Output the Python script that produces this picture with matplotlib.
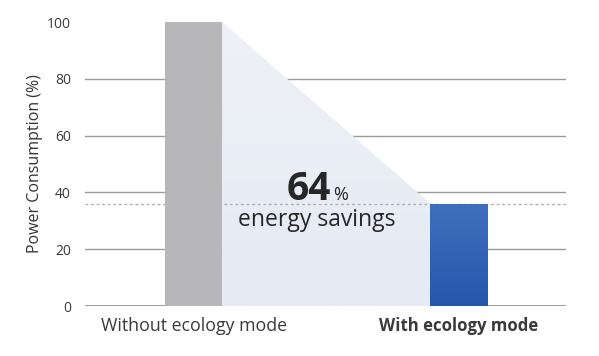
import numpy as np
import matplotlib
matplotlib.use("Agg")
import matplotlib.pyplot as plt
from matplotlib.patches import Polygon

plt.rcParams['font.family'] = ['Open Sans', 'DejaVu Sans']

categories = ['Without ecology mode', 'With ecology mode']
values = [100, 36]
savings = 64
yticks = [0, 20, 40, 60, 80, 100]

fig = plt.figure(figsize=(5.99, 3.56), dpi=100)
ax = fig.add_axes([85 / 599, 1 - 306 / 356, (566 - 85) / 599, (306 - 22) / 356])

x = np.arange(len(categories))
width = 0.215
ax.set_xlim(-0.409, 1.403)
ax.set_ylim(0, 100)

# grid lines
for t in yticks[1:-1]:
    ax.axhline(t, color='#9a9a9a', lw=1, zorder=1)
ax.axhline(0, color='#8a8a8a', lw=1.2, zorder=1)

# shaded savings area between the bars
x0 = x[0] + width / 2
x1 = x[1] - width / 2
shade = Polygon([(x0, 0), (x0, values[0]), (x1, values[1]), (x1, 0)],
                closed=True, facecolor='none', edgecolor='none')
ax.add_patch(shade)
grad = np.linspace(0, 1, 100).reshape(-1, 1)
im = ax.imshow(grad, extent=[x0, x1, 0, values[0]], origin='lower',
               cmap=matplotlib.colors.LinearSegmentedColormap.from_list('s', ['#e5eaf3', '#eef1f7']),
               aspect='auto', zorder=1.5)
im.set_clip_path(shade)

# dotted reference line
ax.axhline(values[1], color='#b0b0b0', lw=1, ls=(0, (2, 2)), zorder=2)

# bars
ax.bar(x[0], values[0], width, color='#b7b7b9', zorder=3)
blue = ax.bar(x[1], values[1], width, color='none', zorder=3)[0]
bgrad = np.linspace(0, 1, 100).reshape(-1, 1)
bim = ax.imshow(bgrad, extent=[x1, x1 + width, 0, values[1]], origin='lower',
                cmap=matplotlib.colors.LinearSegmentedColormap.from_list('b', ['#2457ab', '#3f70bf']),
                aspect='auto', zorder=3)
bim.set_clip_path(blue)
ax.set_xlim(-0.409, 1.403)
ax.set_ylim(0, 100)

# savings annotation
ax.text(0.435, 37.5, str(savings), fontsize=28, fontweight='bold', color='#262626',
        ha='center', va='baseline', zorder=4)
ax.text(0.525, 37.5, '%', fontsize=13, color='#262626', ha='left', va='baseline', zorder=4)
ax.text(0.465, 28, 'energy savings', fontsize=16.5, color='#262626',
        ha='center', va='baseline', zorder=4)

ax.set_yticks(yticks)
ax.set_yticklabels([str(t) for t in yticks], fontsize=10, color='#3a3a3a')
ax.set_xticks(x)
ax.set_xticklabels(categories, fontsize=12.8, color='#3a3a3a')
ax.get_xticklabels()[1].set_fontweight('bold')
ax.get_xticklabels()[1].set_fontsize(12.1)
ax.tick_params(axis='both', length=0)
ax.tick_params(axis='x', pad=8)
ax.tick_params(axis='y', pad=10)
ax.set_ylabel('Power Consumption (%)', fontsize=11.5, color='#333333', labelpad=3)

for s in ax.spines.values():
    s.set_visible(False)

fig.savefig('out.png', dpi=100)
